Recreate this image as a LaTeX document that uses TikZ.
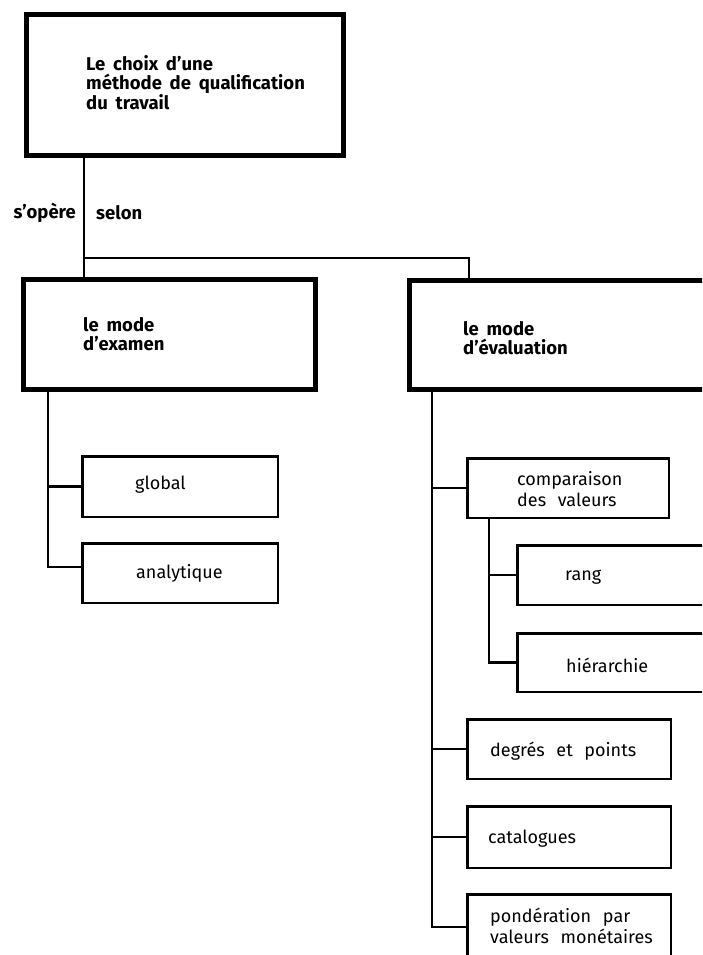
\documentclass[tikz,border=0pt]{standalone}
\usepackage{fontspec}
\setmainfont{Fira Sans}
\newcommand\myBoldFont{\fontsize{18.5}{19}\selectfont\bfseries\spaceskip=0.42em\relax}
\newcommand\myRegFont{\fontsize{18}{21}\selectfont\spaceskip=0.65em\relax}
\begin{document}
\begin{tikzpicture}[x=1pt,y=-1pt,
  bigbox/.style={draw, line width=4.6pt, inner sep=0pt},
  smallbox/.style={draw, line width=2.5pt, inner sep=0pt},
  conn/.style={line width=2.3pt},
  btxt/.style={font=\myBoldFont, align=left, inner sep=0pt, anchor=west},
  rtxt/.style={font=\myRegFont, align=left, inner sep=0pt, anchor=west}]
\useasboundingbox (0,0) rectangle (702,955);
\clip (0,0) rectangle (702,955);
% boxes
\node[bigbox, minimum width=317.5pt, minimum height=141.5pt] (top) at (185,85) {};
\node[bigbox, minimum width=292.5pt, minimum height=110.5pt] (examen) at (169.5,334.5) {};
\node[bigbox, minimum width=308.5pt, minimum height=109.5pt] (eval) at (563.5,335) {};
\node[smallbox, minimum width=195.5pt, minimum height=60.5pt] (global) at (180,486.5) {};
\node[smallbox, minimum width=195.5pt, minimum height=59.5pt] (analyt) at (180,573) {};
\node[smallbox, minimum width=201.5pt, minimum height=59.5pt] (compar) at (568,488) {};
\node[smallbox, minimum width=201.5pt, minimum height=59.5pt] (rang) at (618,575) {};
\node[smallbox, minimum width=201.5pt, minimum height=58.5pt] (hier) at (618,662.5) {};
\node[smallbox, minimum width=203.5pt, minimum height=59.5pt] (degres) at (569,749) {};
\node[smallbox, minimum width=203.5pt, minimum height=61.5pt] (catal) at (569,837) {};
\node[smallbox, minimum width=203.5pt, minimum height=79.5pt] (ponder) at (569,934) {};
% texts
\node[btxt] (ttop) at (86,83) {Le choix d'une\\méthode de qualification\\du travail};
\node[btxt, anchor=east] (toper) at (76,213) {s'opère};
\node[btxt] (tselon) at (96,213) {selon};
\node[btxt] (texam) at (83,334) {le mode\\d'examen};
\node[btxt] (teval) at (463,338) {le mode\\d'évaluation};
\node[rtxt] (tglob) at (135,485) {global};
\node[rtxt] (tanal) at (136,573) {analytique};
\node[rtxt] (tcomp) at (517,489) {comparaison\\des valeurs};
\node[rtxt] (trang) at (565,577) {rang};
\node[rtxt] (thier) at (566,665) {hiérarchie};
\node[rtxt] (tdeg) at (490,751) {degrés et points};
\node[rtxt] (tcat) at (488,839) {catalogues};
\node[rtxt] (tpond) at (490,926) {pondération par\\valeurs monétaires};
% connector columns
\coordinate (vA) at (84,0);
\coordinate (vB) at (469,0);
\coordinate (hj) at (84,258);
\coordinate (vE) at (48,0);
\coordinate (vV) at (432,0);
\coordinate (vC) at (489,0);
% connectors
\draw[conn] (vA |- top.south) -- (vA |- examen.north);
\draw[conn] (hj) -| (vB |- eval.north);
\draw[conn] (vE |- examen.south) |- ([yshift=6pt]analyt.west);
\draw[conn] (vE |- global.west) -- (global.west);
\draw[conn] (vV |- eval.south) |- ([yshift=7pt]ponder.west);
\draw[conn] (vV |- compar.west) -- (compar.west);
\draw[conn] (vV |- degres.west) -- (degres.west);
\draw[conn] (vV |- catal.west) -- (catal.west);
\draw[conn] (vC |- compar.south) |- (hier.west);
\draw[conn] (vC |- rang.west) -- (rang.west);
\end{tikzpicture}
\end{document}
